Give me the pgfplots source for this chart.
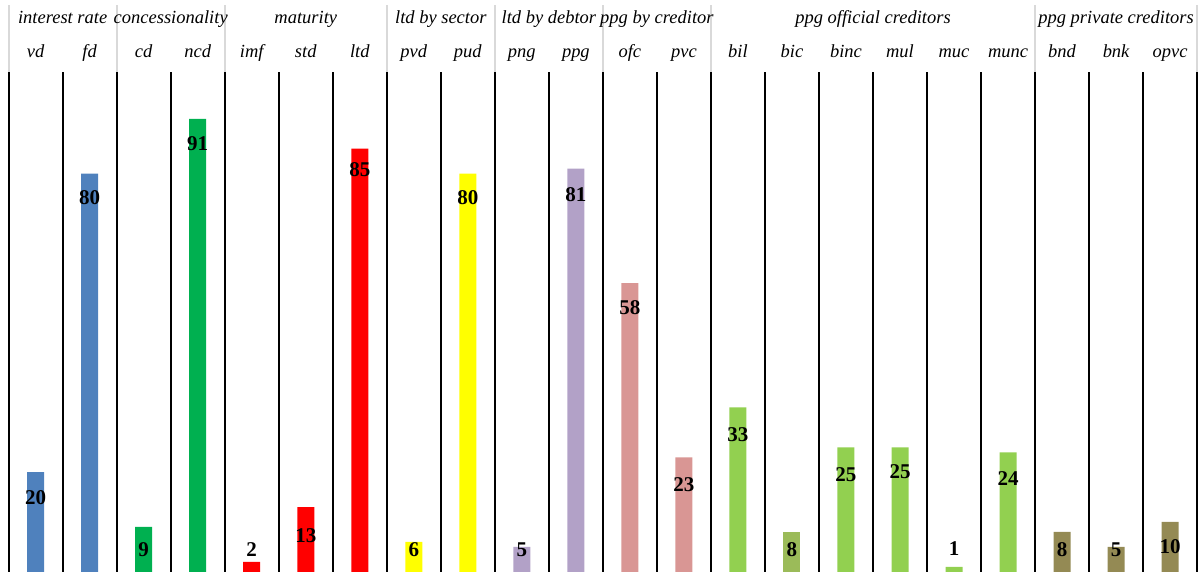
\documentclass[border=0pt]{standalone}
\usepackage{pgfplots}
\pgfplotsset{compat=1.18}
\usepackage{pgfplotstable}
\usepackage{fontspec}
\setmainfont{Liberation Serif}

\definecolor{cInt}{HTML}{4F81BD}
\definecolor{cCon}{HTML}{00B050}
\definecolor{cMat}{HTML}{FF0000}
\definecolor{cSec}{HTML}{FFFF00}
\definecolor{cDeb}{HTML}{B2A1C7}
\definecolor{cCre}{HTML}{D99694}
\definecolor{cOff}{HTML}{92D050}
\definecolor{cBic}{HTML}{9BBB59}
\definecolor{cPri}{HTML}{948A54}
\definecolor{hdrline}{HTML}{D9D9D9}

% x = column index, v = share, ly = height of the value label
\pgfplotstableread{
x v ly
0 20 14.86
1 80 75.1
}\interest
\pgfplotstableread{
x v ly
2 9 4.5
3 91 86.1
}\concess
\pgfplotstableread{
x v ly
4 2 4.4
5 13 7.23
6 85 80.7
}\maturity
\pgfplotstableread{
x v ly
7 6 4.4
8 80 75.1
}\sector
\pgfplotstableread{
x v ly
9 5 4.5
10 81 75.7
}\debtor
\pgfplotstableread{
x v ly
11 58 53.0
12 23 17.5
}\creditor
\pgfplotstableread{
x v ly
13 33 27.5
15 25 19.5
16 25 20.1
17 1 4.6
18 24 18.7
}\official
\pgfplotstableread{
x v ly
14 8 4.4
}\bic
\pgfplotstableread{
x v ly
19 8 4.4
20 5 4.4
21 10 5.0
}\private

\pgfplotsset{
  colbar/.style={ybar, bar width=8.5pt, bar shift=0pt, draw=none, fill=#1},
  vallabel/.style={draw=none, mark=none, nodes near coords,
    point meta=explicit symbolic,
    every node near coord/.append style={anchor=center, inner sep=0pt,
      font=\bfseries\fontsize{10.5}{12}\selectfont, text=black}},
}

\begin{document}
\begin{tikzpicture}
\begin{axis}[
  scale only axis,
  width=594.5pt, height=250pt,
  xmin=-0.5, xmax=21.5,
  ymin=0, ymax=100.4,
  clip=false,
  axis line style={draw=none},
  xtick={-0.5,0.5,...,21.5},
  xticklabels={},
  ytick=\empty,
  major tick length=0pt,
  xmajorgrids,
  grid style={black, line width=1pt},
]
\addplot[colbar=cInt] table[x=x, y=v] {\interest};
\addplot[colbar=cCon] table[x=x, y=v] {\concess};
\addplot[colbar=cMat] table[x=x, y=v] {\maturity};
\addplot[colbar=cSec] table[x=x, y=v] {\sector};
\addplot[colbar=cDeb] table[x=x, y=v] {\debtor};
\addplot[colbar=cCre] table[x=x, y=v] {\creditor};
\addplot[colbar=cOff] table[x=x, y=v] {\official};
\addplot[colbar=cBic] table[x=x, y=v] {\bic};
\addplot[colbar=cPri] table[x=x, y=v] {\private};

\addplot[vallabel] table[x=x, y=ly, meta=v] {\interest};
\addplot[vallabel] table[x=x, y=ly, meta=v] {\concess};
\addplot[vallabel] table[x=x, y=ly, meta=v] {\maturity};
\addplot[vallabel] table[x=x, y=ly, meta=v] {\sector};
\addplot[vallabel] table[x=x, y=ly, meta=v] {\debtor};
\addplot[vallabel] table[x=x, y=ly, meta=v] {\creditor};
\addplot[vallabel] table[x=x, y=ly, meta=v] {\official};
\addplot[vallabel] table[x=x, y=ly, meta=v] {\bic};
\addplot[vallabel] table[x=x, y=ly, meta=v] {\private};

% header separators between groups
\pgfplotsinvokeforeach{-0.5,1.5,3.5,6.5,8.5,10.5,12.5,18.5,21.5}{
  \draw[hdrline, line width=1pt] (axis cs:#1,100.4) -- (axis cs:#1,113.86);
}

% group names
\tikzset{grp/.style={anchor=base, inner sep=0pt, font=\itshape\fontsize{9.25}{11}\selectfont}}
\node[grp] at (axis cs:0.5,110.14) {interest rate};
\node[grp] at (axis cs:2.5,110.14) {concessionality};
\node[grp] at (axis cs:5,110.14) {maturity};
\node[grp] at (axis cs:7.5,110.14) {ltd by sector};
\node[grp] at (axis cs:9.5,110.14) {ltd by debtor};
\node[grp] at (axis cs:11.5,110.14) {ppg by creditor};
\node[grp] at (axis cs:15.5,110.14) {ppg official creditors};
\node[grp] at (axis cs:20,110.14) {ppg private creditors};

% category names
\node[grp] at (axis cs:0,103.3) {vd};
\node[grp] at (axis cs:1,103.3) {fd};
\node[grp] at (axis cs:2,103.3) {cd};
\node[grp] at (axis cs:3,103.3) {ncd};
\node[grp] at (axis cs:4,103.3) {imf};
\node[grp] at (axis cs:5,103.3) {std};
\node[grp] at (axis cs:6,103.3) {ltd};
\node[grp] at (axis cs:7,103.3) {pvd};
\node[grp] at (axis cs:8,103.3) {pud};
\node[grp] at (axis cs:9,103.3) {png};
\node[grp] at (axis cs:10,103.3) {ppg};
\node[grp] at (axis cs:11,103.3) {ofc};
\node[grp] at (axis cs:12,103.3) {pvc};
\node[grp] at (axis cs:13,103.3) {bil};
\node[grp] at (axis cs:14,103.3) {bic};
\node[grp] at (axis cs:15,103.3) {binc};
\node[grp] at (axis cs:16,103.3) {mul};
\node[grp] at (axis cs:17,103.3) {muc};
\node[grp] at (axis cs:18,103.3) {munc};
\node[grp] at (axis cs:19,103.3) {bnd};
\node[grp] at (axis cs:20,103.3) {bnk};
\node[grp] at (axis cs:21,103.3) {opvc};

% page extent
\coordinate (pageSW) at (axis cs:-0.66,0);
\coordinate (pageNE) at (axis cs:21.572,114.86);
\end{axis}
\pgfresetboundingbox
\path[use as bounding box] (pageSW) rectangle (pageNE);
\end{tikzpicture}
\end{document}
